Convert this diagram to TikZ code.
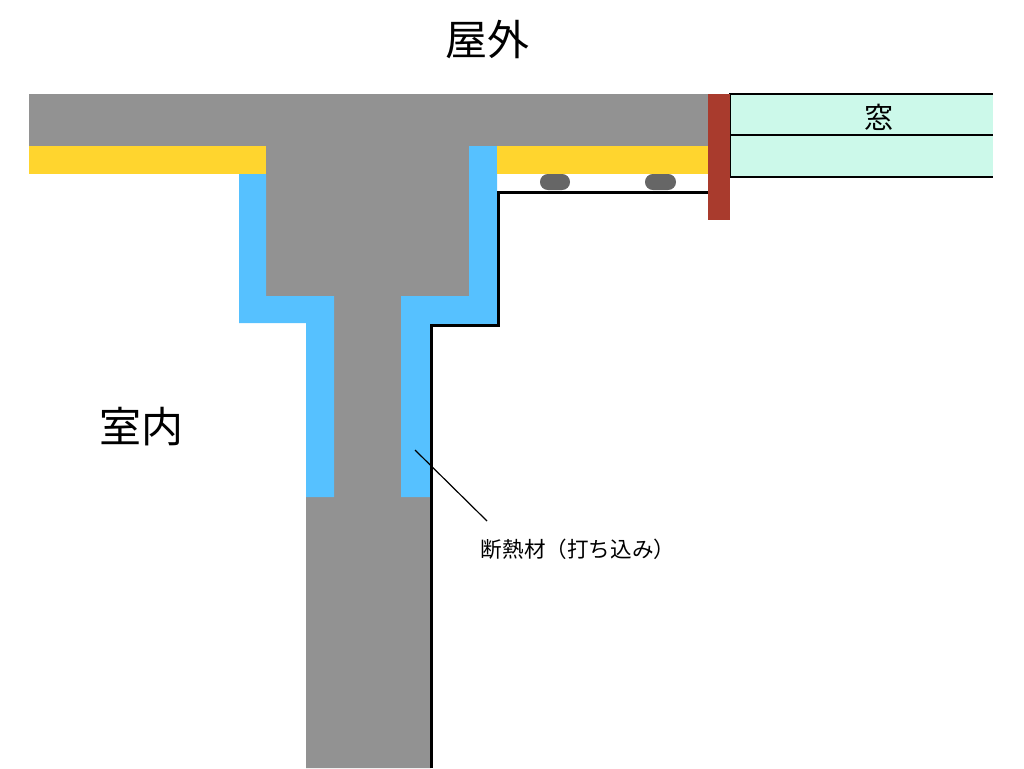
\documentclass[tikz,border=0pt]{standalone}
\usepackage{fontspec}
\setmainfont{Noto Sans CJK JP}
\definecolor{concrete}{HTML}{929292}
\definecolor{insul}{HTML}{56C1FF}
\definecolor{finish}{HTML}{FFD52E}
\definecolor{frameRed}{HTML}{A93B2D}
\definecolor{glass}{HTML}{CCF9EA}
\definecolor{spacer}{HTML}{666666}
\tikzset{
  concretefill/.style={fill=concrete,draw=none},
  insulfill/.style={fill=insul,draw=none},
  finishfill/.style={fill=finish,draw=none},
  windowline/.style={draw=black,line width=1.5pt},
  liningline/.style={draw=black,line width=3pt,line join=miter},
  leaderline/.style={draw=black,line width=1.2pt},
  spacerbar/.style={fill=spacer,draw=none,rounded corners=7.9pt},
  big/.style={inner sep=0pt,font=\fontsize{42}{42}\selectfont},
  winlabel/.style={inner sep=0pt,font=\fontsize{29}{29}\selectfont},
  small/.style={inner sep=0pt,font=\fontsize{21.6}{21.6}\selectfont},
}
\begin{document}
\begin{tikzpicture}[x=1pt,y=-1pt]
\useasboundingbox (0,0) rectangle (1024,768);
% window
\fill[glass] (730,94) rectangle (993,177);
\draw[windowline] (993,94) -- (730,94) -- (730,177) -- (993,177);
\draw[windowline] (730,135) -- (993,135);
% concrete
\path[concretefill] (29,94) -- (708,94) -- (708,146) -- (469,146) -- (469,296) -- (401,296)
  -- (401,497) -- (431,497) -- (431,768) -- (306,768) -- (306,497) -- (334,497) -- (334,296)
  -- (266,296) -- (266,146) -- (29,146) -- cycle;
% insulation
\path[insulfill] (239,174) -- (266,174) -- (266,296) -- (334,296) -- (334,497) -- (306,497)
  -- (306,323) -- (239,323) -- cycle;
\path[insulfill] (469,146) -- (497,146) -- (497,325) -- (431,325) -- (431,497) -- (401,497)
  -- (401,296) -- (469,296) -- cycle;
% finish
\path[finishfill] (29,146) rectangle (266,174);
\path[finishfill] (497,146) rectangle (708,174);
% spacers
\path[spacerbar] (540,174) rectangle (570,190);
\path[spacerbar] (645,174) rectangle (676,190);
% lining
\draw[liningline] (708,192) -- (498,192) -- (498,325) -- (431,325) -- (431,768);
% frame
\fill[frameRed] (708,94) rectangle (730,220);
% labels
\node[big] (outside) at (487.5,40) {屋外};
\node[big] (inside) at (141,427) {室内};
\node[winlabel] (window) at (878.5,117) {窓};
\node[small] (insullabel) at (578,549.5) {断熱材（打ち込み）};
\coordinate (leaderA) at (415,450);
\coordinate (leaderB) at (487,521);
\draw[leaderline] (leaderA) -- (leaderB);
\end{tikzpicture}
\end{document}
